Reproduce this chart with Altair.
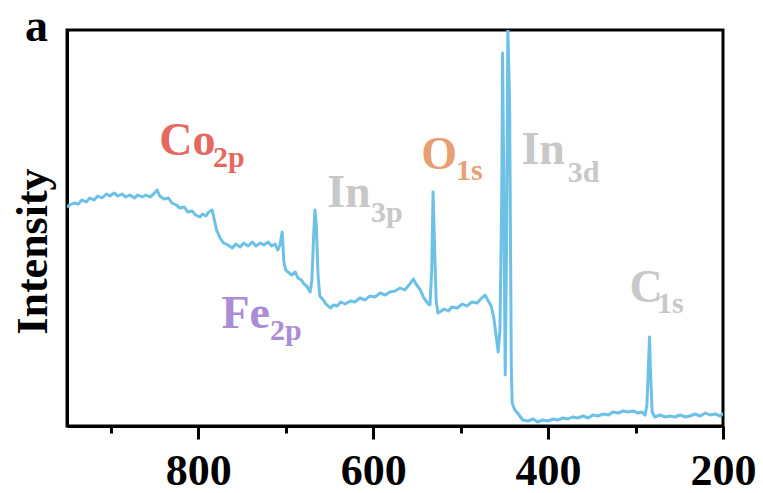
import altair as alt
import pandas as pd

# Binding energy (eV) and intensity (a.u.)
binding_energy = [
    950, 947, 942, 937, 933, 928, 924, 919, 915, 910, 905, 901, 896, 892, 887, 883,
    878, 873, 869, 864, 860, 855, 851, 847, 844, 839, 834, 830, 825, 821, 816, 812,
    807, 803, 798, 795, 791, 788, 784, 782, 779, 775, 771, 766, 761, 757, 752, 748,
    743, 738, 734, 729, 725, 720, 716, 712, 709, 706.5, 704, 702, 700, 696, 693, 689,
    686, 682, 679, 676, 672, 670, 668, 666.5, 665, 663, 661, 657, 654, 649, 645, 641,
    637, 632, 626, 621, 615, 609, 604, 598, 592, 586, 581, 575, 569, 564, 558, 554,
    551, 546, 542, 537, 535, 533, 531.5, 530, 528, 526, 522, 519, 514, 510, 504, 498,
    493, 487, 481, 477, 472, 469, 465, 462, 459.5, 457, 455, 453, 452, 451, 449, 447.5,
    446, 444, 442, 441, 438, 434, 429, 423, 417, 412, 406, 400, 394, 389, 383, 377,
    372, 366, 360, 354, 349, 343, 337, 331, 326, 320, 314, 309, 303, 297, 293, 289,
    287, 285, 284, 283, 281, 278, 272, 266, 261, 255, 249, 243, 238, 232, 226, 220,
    215, 209, 203, 200,
]
intensity = [
    219, 221, 223, 222, 226, 224, 228, 226, 230, 228, 232, 230, 233, 230, 232, 229,
    231, 228, 231, 229, 231, 229, 232, 236, 230, 227, 228, 223, 221, 218, 219, 214,
    215, 211, 209, 212, 210, 214, 216, 208, 196, 188, 183, 181, 178, 182, 179, 183,
    180, 184, 180, 183, 181, 184, 180, 182, 176, 181, 194, 164, 156, 153, 151, 154,
    148, 146, 142, 140, 134, 146, 191, 216, 201, 151, 130, 126, 122, 118, 121, 120,
    124, 122, 125, 124, 128, 126, 130, 129, 133, 131, 134, 135, 138, 136, 142, 147,
    142, 136, 128, 122, 121, 156, 234, 186, 126, 113, 115, 117, 115, 119, 118, 122,
    120, 124, 123, 127, 131, 126, 120, 108, 91, 74, 96, 226, 373, 276, 51, 176,
    398, 326, 56, 23, 16, 12, 6, 5, 7, 4, 6, 5, 7, 6, 8, 7,
    9, 8, 10, 8, 11, 10, 12, 11, 14, 13, 15, 14, 15, 13, 14, 11,
    21, 66, 89, 56, 14, 9, 11, 9, 10, 9, 11, 9, 10, 12, 10, 13,
    11, 12, 10, 13,
]

# Peak annotations: element symbol, orbital subscript and their anchor points (data units)
element = ["Co2p", "In3p", "O1s", "In3d", "Fe2p", "C1s"]
symbol = ["Co", "In", "O", "In", "Fe", "C"]
symbol_be = [844.5, 652.5, 545.0, 430.5, 773.5, 307.0]
symbol_int = [271, 219, 257, 262, 98, 124]
orbital = ["2p", "3p", "1s", "3d", "2p", "1s"]
orbital_be = [783.1, 602.5, 505.3, 377.5, 717.9, 275.5]
orbital_int = [259, 204, 246, 244, 86, 113]
element_colors = ["#E5695F", "#C8C8C8", "#E8A073", "#C8C8C8", "#AA8CD7", "#C8C8C8"]

x_ticks = [900, 800, 700, 600, 500, 400, 300, 200]

FONT = "Liberation Serif"

spec = pd.DataFrame({"be": binding_energy, "intensity": intensity})
labels = pd.DataFrame({
    "element": element,
    "symbol": symbol, "sx": symbol_be, "sy": symbol_int,
    "orbital": orbital, "ox": orbital_be, "oy": orbital_int,
})

x_scale = alt.Scale(domain=[200, 950], reverse=True, nice=False, zero=False)
y_scale = alt.Scale(domain=[0, 396], nice=False, zero=False)
color_scale = alt.Scale(domain=element, range=element_colors)

x_axis = alt.Axis(
    values=x_ticks,
    labelExpr="datum.value % 200 == 0 ? datum.label : ''",
    tickSize={"condition": {"test": "datum.value % 200 == 0", "value": 13}, "value": 7},
    tickWidth=3, tickColor="black",
    domainColor="black", domainWidth=3,
    labelFont=FONT, labelFontWeight="bold", labelFontSize=44, labelColor="black",
    labelPadding=10, labelFlush=False, labelOverlap=False,
    grid=False, title=None,
)
y_axis = alt.Axis(
    title="Intensity", labels=False, ticks=False, grid=False,
    domainColor="black", domainWidth=3,
    titleFont=FONT, titleFontWeight="bold", titleFontSize=44, titleColor="black",
    titlePadding=12, titleY=221,
)

line = alt.Chart(spec).mark_line(
    color="#6EC1E6", strokeWidth=3, clip=True, strokeJoin="round"
).encode(
    x=alt.X("be:Q", scale=x_scale, axis=x_axis),
    y=alt.Y("intensity:Q", scale=y_scale, axis=y_axis),
)

sym = alt.Chart(labels).mark_text(
    font=FONT, fontWeight="bold", fontSize=46, align="left", baseline="alphabetic"
).encode(
    x=alt.X("sx:Q", scale=x_scale),
    y=alt.Y("sy:Q", scale=y_scale),
    text="symbol:N",
    color=alt.Color("element:N", scale=color_scale, legend=None),
)

sub = alt.Chart(labels).mark_text(
    font=FONT, fontWeight="bold", fontSize=30, align="left", baseline="alphabetic"
).encode(
    x=alt.X("ox:Q", scale=x_scale),
    y=alt.Y("oy:Q", scale=y_scale),
    text="orbital:N",
    color=alt.Color("element:N", scale=color_scale, legend=None),
)

chart = alt.layer(line, sym, sub).properties(
    width=656, height=396,
    padding={"left": 67, "top": 30, "right": 40, "bottom": 67},
    autosize=alt.AutoSizeParams(type="none"),
    title=alt.TitleParams(
        text="a", anchor="start", frame="group", dx=-42, offset=-57,
        font=FONT, fontWeight="bold", fontSize=46, color="black", baseline="alphabetic",
    ),
    background="white",
).configure_view(stroke="black", strokeWidth=3)

chart.save("out.html", embed_options={"renderer": "svg", "actions": False})
